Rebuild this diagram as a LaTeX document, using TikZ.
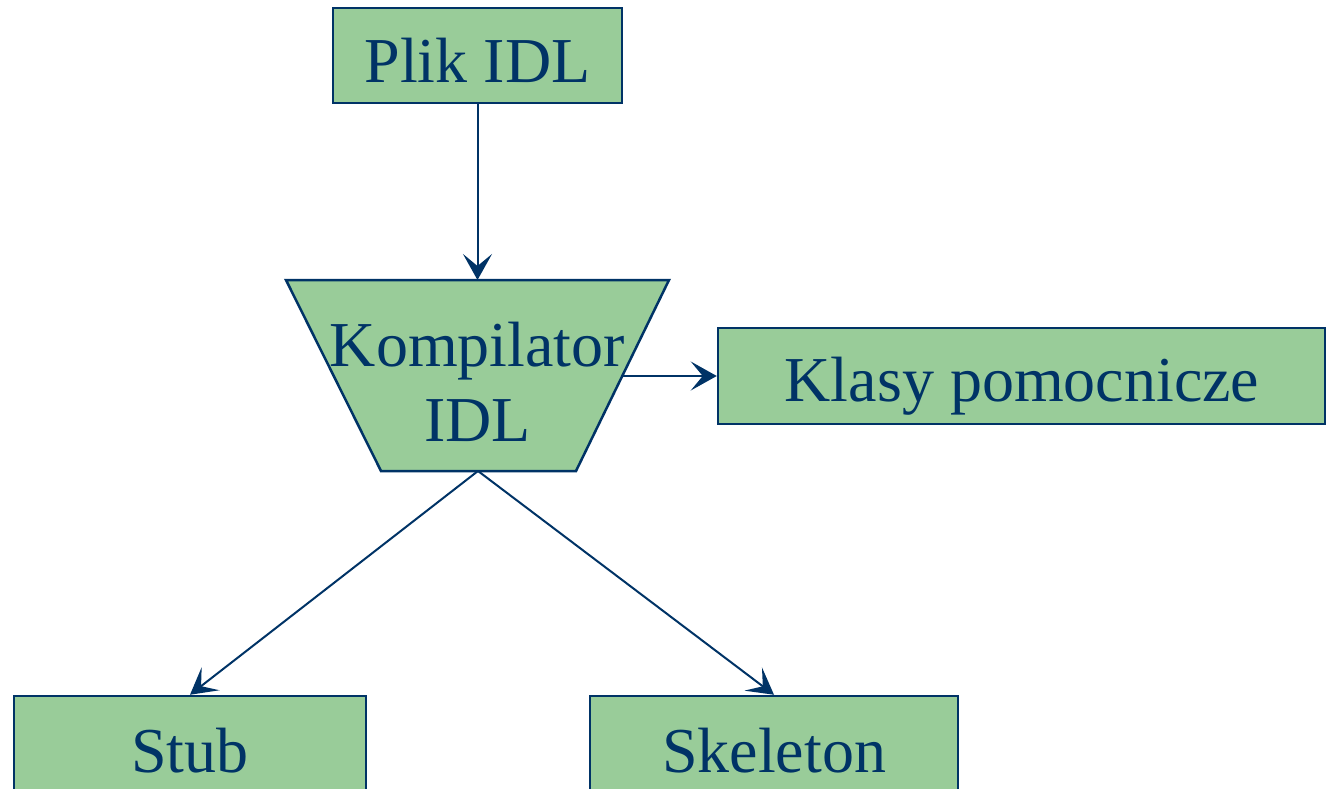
\documentclass[tikz,border=0pt]{standalone}
\usepackage{fontspec}
\setmainfont{Liberation Serif}
\usetikzlibrary{arrows.meta}
\definecolor{boxfill}{RGB}{153,204,153}
\definecolor{ink}{RGB}{0,51,102}
\begin{document}
\begin{tikzpicture}[x=1pt,y=-1pt,
  box/.style={draw=ink,fill=boxfill,line width=2.5pt,inner sep=0pt,rectangle},
  lbl/.style={text=ink,font=\fontsize{64}{75}\selectfont,inner sep=0pt,anchor=base,align=center},
  conn/.style={draw=ink,line width=2pt,-{Stealth[length=26pt,width=29pt,inset=12pt]}}]
\useasboundingbox (0,0) rectangle (1326,789);
\node[box,minimum width=289pt,minimum height=95pt] (plik) at (477.5,55.5) {};
\node[box,minimum width=607pt,minimum height=96pt] (klasy) at (1021.5,376) {};
\node[box,minimum width=352pt,minimum height=120pt] (stub) at (190,756) {};
\node[box,minimum width=368pt,minimum height=120pt] (skel) at (774,756) {};
\coordinate (kompN) at (477.5,280);
\coordinate (kompS) at (478,471);
\coordinate (kompE) at (622.5,376);
\draw[draw=ink,fill=boxfill,line width=2.5pt,line join=miter]
  (286,280) -- (669,280) -- (576,471) -- (381,471) -- cycle;
\node[lbl] (tplik) at (477.5,83) {Plik IDL};
\node[lbl] (tkomp) at (477.5,441) {Kompilator\\IDL};
\node[lbl] (tklasy) at (1022,401) {Klasy pomocnicze};
\node[lbl] (tstub) at (190,772) {Stub};
\node[lbl] (tskel) at (774,772) {Skeleton};
\draw[conn] (plik.south) -- (kompN);
\draw[conn] (kompE) -- (klasy.west);
\draw[conn] (kompS) -- (stub.north);
\draw[conn] (kompS) -- (skel.north);
\end{tikzpicture}
\end{document}
